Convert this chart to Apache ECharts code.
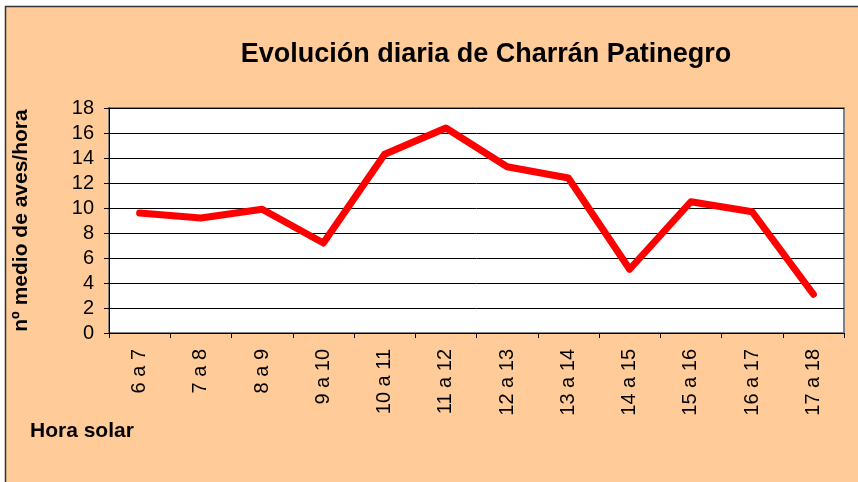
<!DOCTYPE html>
<html>
<head>
<meta charset="utf-8">
<script src="https://cdn.jsdelivr.net/npm/echarts@6/dist/echarts.min.js"></script>
<style>
  html, body { margin: 0; padding: 0; background: #fff; }
  #chart { width: 858px; height: 482px; }
</style>
</head>
<body>
<div id="chart"></div>
<script>
// horas solares
var categories = ['6 a 7', '7 a 8', '8 a 9', '9 a 10', '10 a 11', '11 a 12',
  '12 a 13', '13 a 14', '14 a 15', '15 a 16', '16 a 17', '17 a 18']
// nº medio de aves/hora
var avesHora = [9.6, 9.2, 9.9, 7.2, 14.3, 16.4, 13.3, 12.4, 5.1, 10.5, 9.7, 3.1]
var yTicks = { min: 0, max: 18, step: 2 }

var font = 'Arial, "Liberation Sans", sans-serif'
var chart = echarts.init(document.getElementById('chart'))

var option = {
  animation: false,
  graphic: [
    {
      type: 'rect',
      shape: { x: 5.5, y: 6.5, width: 870, height: 490 },
      style: { fill: '#FFCC99', stroke: '#333', lineWidth: 1.5 },
      z: -10
    },
    {
      type: 'text',
      left: 30,
      top: 421,
      style: { text: 'Hora solar', font: 'bold 21px ' + font, fill: '#000' }
    }
  ],
  title: {
    text: 'Evolución diaria de Charrán Patinegro',
    left: 481,
    top: 36,
    textAlign: 'center',
    textStyle: { fontFamily: font, fontSize: 27, fontWeight: 'bold', color: '#000' }
  },
  grid: {
    left: 109,
    right: 14,
    top: 108,
    bottom: 149,
    show: true,
    backgroundColor: '#fff',
    borderColor: '#808080',
    borderWidth: 2
  },
  xAxis: {
    type: 'category',
    data: categories,
    boundaryGap: true,
    axisLine: { lineStyle: { color: '#000', width: 1 } },
    axisTick: { show: true, inside: false, length: 5, alignWithLabel: false, lineStyle: { color: '#000' } },
    axisLabel: {
      rotate: 90,
      interval: 0,
      margin: 16,
      fontFamily: font,
      fontSize: 20,
      color: '#000'
    },
    splitLine: { show: false }
  },
  yAxis: {
    type: 'value',
    min: yTicks.min,
    max: yTicks.max,
    interval: yTicks.step,
    name: 'nº medio de aves/hora',
    nameLocation: 'middle',
    nameGap: 77,
    nameRotate: 90,
    nameTextStyle: { fontFamily: font, fontSize: 21, fontWeight: 'bold', color: '#000' },
    axisLine: { show: true, lineStyle: { color: '#000', width: 1 } },
    axisTick: { show: true, inside: false, length: 5, lineStyle: { color: '#000' } },
    axisLabel: { margin: 15, fontFamily: font, fontSize: 20, color: '#000' },
    splitLine: { show: true, lineStyle: { color: '#000', width: 1 } }
  },
  series: [{
    type: 'line',
    data: avesHora,
    symbol: 'none',
    lineStyle: { color: '#FF0000', width: 7, cap: 'round', join: 'round' },
    z: 5
  }]
}

chart.setOption(option)
</script>
</body>
</html>
